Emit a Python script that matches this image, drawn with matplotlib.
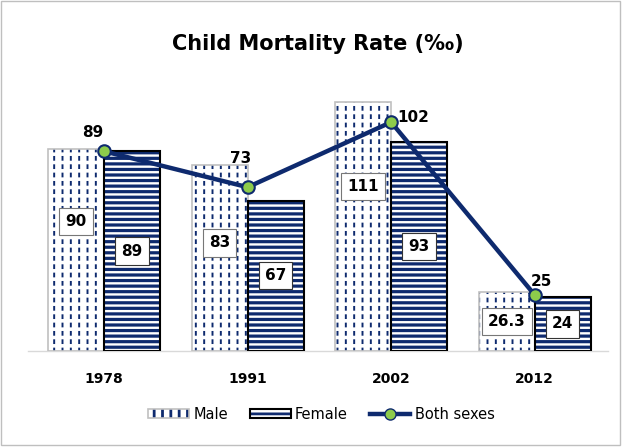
import numpy as np
import matplotlib.pyplot as plt
from matplotlib.lines import Line2D
from matplotlib.patches import Patch

years = ['1978', '1991', '2002', '2012']
male = [90, 83, 111, 26.3]
female = [89, 67, 93, 24]
both = [89, 73, 102, 25]
male_labels = ['90', '83', '111', '26.3']
female_labels = ['89', '67', '93', '24']
both_labels = ['89', '73', '102', '25']

navy = '#0E2A6E'
green = '#8DCB4B'

plt.rcParams['font.family'] = ['DejaVu Sans']
plt.rcParams['hatch.linewidth'] = 2.0

fig = plt.figure(figsize=(6.24, 4.47), dpi=100)
ax = fig.add_axes([0.045, 0.215, 0.929, 0.602])

x = np.arange(len(years))
w = 0.39

# male: thin vertical lines cut into dashes by white horizontal lines
with plt.rc_context({'hatch.linewidth': 1.4}):
    mb = ax.bar(x - w / 2, male, w, color='white', edgecolor=navy, hatch='||', linewidth=0)
with plt.rc_context({'hatch.linewidth': 2.6}):
    ax.bar(x - w / 2, male, w, fill=False, edgecolor='white', hatch='--', linewidth=0)
for b in mb:
    ax.add_patch(plt.Rectangle(b.get_xy(), b.get_width(), b.get_height(), fill=False,
                               edgecolor='#C0C0C0', linewidth=1.2, zorder=3))
with plt.rc_context({'hatch.linewidth': 2.3}):
    fb = ax.bar(x + w / 2, female, w, color='white', edgecolor=navy, hatch='---', linewidth=0)
for b in fb:
    ax.add_patch(plt.Rectangle(b.get_xy(), b.get_width(), b.get_height(), fill=False,
                               edgecolor='black', linewidth=1.5, zorder=3))

box_m = dict(boxstyle='square,pad=0.4', fc='white', ec='#777777', lw=0.8)
box_f = dict(boxstyle='square,pad=0.4', fc='white', ec='#333333', lw=0.8)
male_pos = [0.64, 0.58, 0.66, 0.5]
for i in range(len(years)):
    ax.text(x[i] - w / 2, male[i] * male_pos[i], male_labels[i], ha='center', va='center',
            fontsize=11, fontweight='bold', bbox=box_m, zorder=5)
    ax.text(x[i] + w / 2, female[i] / 2, female_labels[i], ha='center', va='center',
            fontsize=11, fontweight='bold', bbox=box_f, zorder=5)

ax.plot(x, both, color=navy, lw=3.2, marker='o', ms=9, mfc=green, mec=navy, mew=1.5,
        zorder=6, solid_capstyle='round')
offs = [(-8, 8), (-5, 15), (16, 3), (5, 4)]
for i in range(len(years)):
    ax.annotate(both_labels[i], (x[i], both[i]), xytext=offs[i], textcoords='offset points',
                ha='center', va='bottom' if offs[i][0] < 10 else 'center',
                fontsize=11, fontweight='bold', zorder=7)

ax.set_xlim(-0.53, 3.51)
ax.set_ylim(0, 120)
ax.set_yticks([])
ax.set_xticks(x)
ax.set_xticklabels(years, fontsize=10, fontweight='bold')
ax.tick_params(axis='x', length=0, pad=15)
for s in ['top', 'left', 'right']:
    ax.spines[s].set_visible(False)
ax.spines['bottom'].set_color('#D9D9D9')
ax.spines['bottom'].set_linewidth(1)

fig.suptitle('Child Mortality Rate (‰)', x=0.51, y=0.925, fontsize=15, fontweight='bold')

with plt.rc_context({'hatch.linewidth': 1.4}):
    h_m = Patch(facecolor='white', edgecolor=navy, hatch='||', lw=0)
with plt.rc_context({'hatch.linewidth': 2.3}):
    h_f = Patch(facecolor='white', edgecolor=navy, hatch='---', lw=0)
h_m_edge = Patch(fill=False, edgecolor='#C0C0C0', lw=1.2)
h_f_edge = Patch(fill=False, edgecolor='black', lw=1.5)
h_b = Line2D([], [], color=navy, lw=3.2, marker='o', ms=8, mfc=green, mec=navy)
fig.legend([(h_m, h_m_edge), (h_f, h_f_edge), h_b], ['Male', 'Female', 'Both sexes'],
           loc='center', ncol=3, bbox_to_anchor=(0.515, 0.073), frameon=False,
           fontsize=10.5, handlelength=2.8, handleheight=0.6, columnspacing=1.5,
           handletextpad=0.3)

fig.add_artist(plt.Rectangle((0.002, 0.004), 0.991, 0.993, transform=fig.transFigure,
                             fill=False, edgecolor='#BFBFBF', lw=1))

fig.savefig('out.png', dpi=100)
